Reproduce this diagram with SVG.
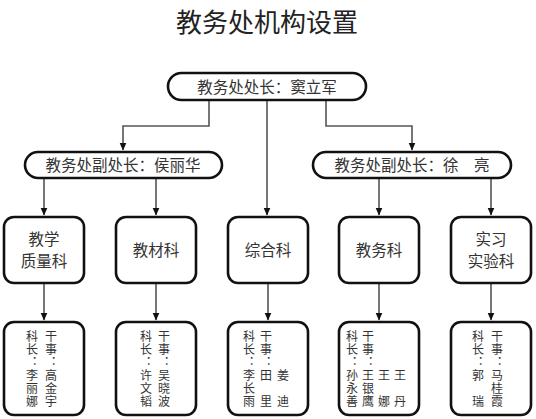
<svg xmlns="http://www.w3.org/2000/svg" width="536" height="419" viewBox="0 0 536 419">
<defs>
<marker id="arr" markerWidth="8" markerHeight="9" refX="7.5" refY="4" orient="auto" markerUnits="userSpaceOnUse">
<path d="M0,0.5 L8,4 L0,7.5 Z" fill="#111"/>
</marker>
</defs>
<style>
.box{fill:#fff;stroke:#111;stroke-width:2.6}
.ln{fill:none;stroke:#555;stroke-width:1.6}
text{font-family:"Noto Sans CJK SC","Noto Sans",sans-serif;fill:#333}
.t{font-size:26px;text-anchor:middle;fill:#222}
.m{font-size:15.5px;text-anchor:middle}
.v{font-size:12px;writing-mode:vertical-rl;letter-spacing:1px}
</style>
<rect width="536" height="419" fill="#fff"/>
<text class="t" x="267" y="32">教务处机构设置</text>

<g id="connectors">
<path class="ln" d="M209,100 V126 H123 V150" marker-end="url(#arr)"/>
<path class="ln" d="M326,100 V126 H412 V150" marker-end="url(#arr)"/>
<path class="ln" d="M267,100 V215" marker-end="url(#arr)"/>
<path class="ln" d="M44,178 V215" marker-end="url(#arr)"/>
<path class="ln" d="M156,178 V215" marker-end="url(#arr)"/>
<path class="ln" d="M379,178 V215" marker-end="url(#arr)"/>
<path class="ln" d="M491,178 V215" marker-end="url(#arr)"/>
<path class="ln" d="M44,283 V320" marker-end="url(#arr)"/>
<path class="ln" d="M156,283 V320" marker-end="url(#arr)"/>
<path class="ln" d="M268,283 V320" marker-end="url(#arr)"/>
<path class="ln" d="M379,283 V320" marker-end="url(#arr)"/>
<path class="ln" d="M491,283 V320" marker-end="url(#arr)"/>
</g>

<g id="director">
<rect class="box" x="168" y="73" width="198" height="27" rx="13.5"/>
<text class="m" x="267" y="92.5">教务处处长：窦立军</text>
</g>
<g id="deputy-left">
<rect class="box" x="25" y="152" width="197" height="26" rx="13"/>
<text class="m" x="123" y="170.5">教务处副处长：侯丽华</text>
</g>
<g id="deputy-right">
<rect class="box" x="313" y="152" width="198" height="26" rx="13"/>
<text class="m" x="412" y="170.5">教务处副处长：徐　亮</text>
</g>

<g id="dept-quality">
<rect class="box" x="4" y="217" width="80" height="66" rx="10"/>
<text class="m" x="44" y="245">教学</text>
<text class="m" x="44" y="267">质量科</text>
</g>
<g id="dept-materials">
<rect class="box" x="116" y="217" width="80" height="66" rx="10"/>
<text class="m" x="156" y="256">教材科</text>
</g>
<g id="dept-general">
<rect class="box" x="228" y="217" width="80" height="66" rx="10"/>
<text class="m" x="268" y="256">综合科</text>
</g>
<g id="dept-academic">
<rect class="box" x="339" y="217" width="80" height="66" rx="10"/>
<text class="m" x="379" y="256">教务科</text>
</g>
<g id="dept-lab">
<rect class="box" x="451" y="217" width="80" height="66" rx="10"/>
<text class="m" x="491" y="245">实习</text>
<text class="m" x="491" y="267">实验科</text>
</g>

<g id="staff-quality">
<rect class="box" x="4" y="322" width="80" height="93" rx="10"/>
<text class="v" x="32" y="330">科长：李丽娜</text>
<text class="v" x="51" y="330">干事：高金宇</text>
</g>
<g id="staff-materials">
<rect class="box" x="116" y="322" width="80" height="93" rx="10"/>
<text class="v" x="146" y="330">科长：许文韬</text>
<text class="v" x="164" y="330">干事：吴晓波</text>
</g>
<g id="staff-general">
<rect class="box" x="228" y="322" width="80" height="93" rx="10"/>
<text class="v" x="249" y="330">科长：李长雨</text>
<text class="v" x="266" y="330">干事：田　里</text>
<text class="v" x="283" y="369">姜　迪</text>
</g>
<g id="staff-academic">
<rect class="box" x="339" y="322" width="80" height="93" rx="10"/>
<text class="v" x="352" y="330">科长：孙永善</text>
<text class="v" x="368" y="330">干事：王银鹰</text>
<text class="v" x="384" y="369">王　娜</text>
<text class="v" x="400" y="369">王　丹</text>
</g>
<g id="staff-lab">
<rect class="box" x="451" y="322" width="80" height="93" rx="10"/>
<text class="v" x="478" y="330">科长：郭　瑞</text>
<text class="v" x="497" y="330">干事：马桂霞</text>
</g>
</svg>
